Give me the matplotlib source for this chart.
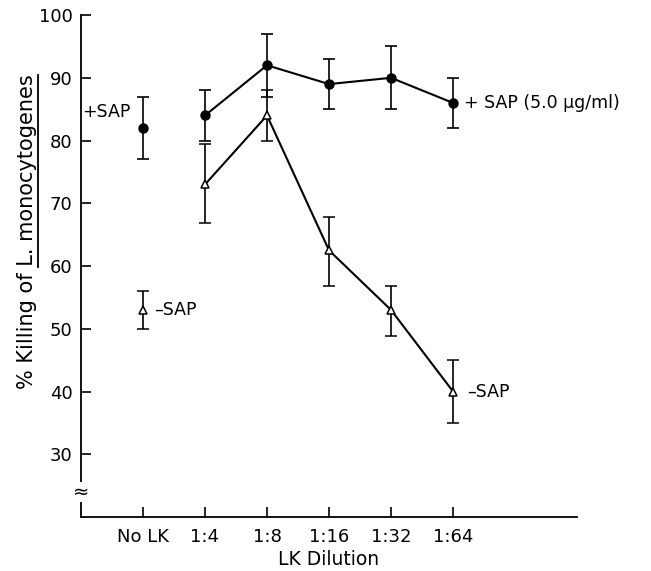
import matplotlib
matplotlib.use("Agg")
import matplotlib.pyplot as plt
from matplotlib.lines import Line2D

categories = ["No LK", "1:4", "1:8", "1:16", "1:32", "1:64"]
plus_sap = [82, 84, 92, 89, 90, 86]
plus_err = [5, 4, 5, 4, 5, 4]
minus_sap = [53, 73, 84, 62.5, 53, 40]
minus_err_lo = [3, 6.1, 4, 5.7, 4.2, 5]
minus_err_hi = [3, 6.4, 4, 5.3, 3.8, 5]
y_ticks = [30, 40, 50, 60, 70, 80, 90, 100]

plt.rcParams['font.family'] = ['DejaVu Sans']

fig = plt.figure(figsize=(6.51, 5.71), dpi=100)
ax = fig.add_axes([0.1244, 0.0946, 0.762, 0.879])

x = list(range(len(categories)))
ekw = dict(ecolor='black', elinewidth=1.2, capsize=4, capthick=1.2)

# No LK points (unconnected)
ax.errorbar([x[0]], [plus_sap[0]], yerr=[plus_err[0]], fmt='o', color='black',
            markersize=6.5, **ekw, zorder=3)
ax.errorbar([x[0]], [minus_sap[0]], yerr=[[minus_err_lo[0]], [minus_err_hi[0]]], fmt='^',
            markerfacecolor='white', markeredgecolor='black', markeredgewidth=1.1,
            markersize=6, **ekw, zorder=3)

# Dilution series (connected)
ax.errorbar(x[1:], plus_sap[1:], yerr=plus_err[1:], fmt='-o', color='black',
            linewidth=1.5, markersize=6.5, **ekw, zorder=3)
ax.errorbar(x[1:], minus_sap[1:], yerr=[minus_err_lo[1:], minus_err_hi[1:]], fmt='-^',
            color='black', linewidth=1.5, markerfacecolor='white',
            markeredgecolor='black', markeredgewidth=1.1, markersize=6, **ekw, zorder=3)

ax.set_xlim(-1, 7)
ax.set_ylim(20, 100)
ax.set_xticks(x)
ax.set_xticklabels(categories, fontsize=13)
ax.set_yticks(y_ticks)
ax.set_yticklabels([str(v) for v in y_ticks], fontsize=13)
ax.tick_params(axis='both', direction='in', length=7, width=1.2, colors='black')
ax.tick_params(axis='x', pad=8)
ax.tick_params(axis='y', pad=6)
for s in ['top', 'right']:
    ax.spines[s].set_visible(False)
for s in ['left', 'bottom']:
    ax.spines[s].set_linewidth(1.3)

prefix = "% Killing of "
species = "L. monocytogenes"
ax.set_xlabel("LK Dilution", fontsize=13.5, labelpad=3)
ax.set_ylabel(prefix + species, fontsize=15)
ax.yaxis.set_label_coords(-0.089, 0.568)

# Annotations
ax.text(-0.2, 84.5, "+SAP", fontsize=12.5, ha='right', va='center')
ax.text(0.18, 53, "\u2013SAP", fontsize=12.5, ha='left', va='center')
ax.text(5.18, 86, "+ SAP (5.0 \u03bcg/ml)", fontsize=12.5, ha='left', va='center')
ax.text(5.22, 40, "\u2013SAP", fontsize=12.5, ha='left', va='center')

# Axis break mark
ax.text(-1, 24, "\u2248", fontsize=14, ha='center', va='center',
        bbox=dict(facecolor='white', edgecolor='none', pad=0.5), clip_on=False, zorder=5)

# Underline the species name in the rotated y-label
fig.canvas.draw()
r = fig.canvas.get_renderer()
bb = ax.yaxis.label.get_window_extent(r)
def _w(s):
    t = fig.text(0, 0, s, fontsize=15)
    w = t.get_window_extent(r).width
    t.remove()
    return w
W = _w(prefix + species)
wp = _w(prefix.rstrip()) + _w(" ") * 0.9
scale = bb.height / W
y0 = bb.y0 + wp * scale
y1 = bb.y1
xl = bb.x1 + 1.5
fw, fh = fig.get_size_inches() * fig.dpi
fig.add_artist(Line2D([xl / fw, xl / fw], [y0 / fh, y1 / fh], color='black',
                      linewidth=1.3, transform=fig.transFigure))

fig.savefig("out.png", dpi=100)
